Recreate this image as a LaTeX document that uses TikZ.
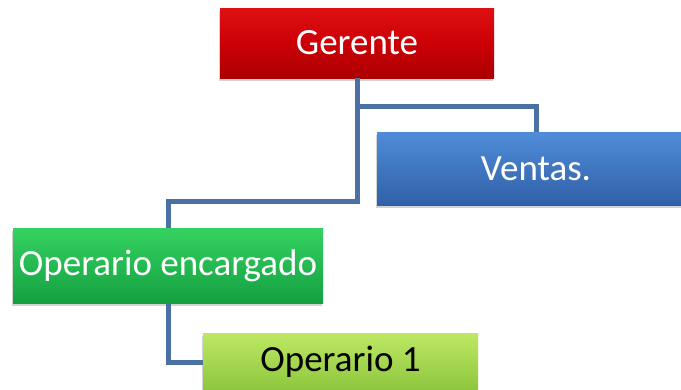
\documentclass[tikz,border=0pt]{standalone}
\usepackage{fontspec}
\setmainfont{Carlito}
\usetikzlibrary{positioning,shadows}
\definecolor{linia}{HTML}{4A70A4}
\begin{document}
\begin{tikzpicture}[x=1pt,y=-1pt,
	caja/.style={rectangle, inner sep=0pt, font=\fontsize{37}{42}\selectfont,
		drop shadow={shadow xshift=-1.5pt, shadow yshift=-2.5pt, opacity=.35}},
	conector/.style={draw=linia, line width=5pt}]
					\useasboundingbox (0,0) rectangle (681,389);
					\clip (0,0) rectangle (681,389);
					\node[caja, minimum width=274pt, minimum height=70pt, text=white,
						top color={rgb,255:red,222;green,16;blue,20}, bottom color={rgb,255:red,170;green,0;blue,0}, middle color={rgb,255:red,204;green,0;blue,6}]
						(ger) at (357,43) {Gerente};
					\node[caja, minimum width=318pt, minimum height=73pt, text=white,
						top color={rgb,255:red,80;green,140;blue,216}, bottom color={rgb,255:red,48;green,96;blue,168}]
						(ven) at (536,168.5) {Ventas.};
					\node[caja, minimum width=310pt, minimum height=75pt, text=white,
						top color={rgb,255:red,52;green,210;blue,96}, bottom color={rgb,255:red,20;green,160;blue,66}]
						(enc) at (168,265.5) {Operario encargado};
					\node[caja, minimum width=275pt, minimum height=58pt, text=black,
						top color={rgb,255:red,190;green,232;blue,100}, bottom color={rgb,255:red,140;green,198;blue,60}]
						(op1) at (340.5,362) {Operario 1};
					\coordinate (j1) at (357,106);
					\coordinate (j2) at (357,201);
					\path[conector]
					(ger.south) -- (j1) -| (ven.north)
					(j1) -- (j2) -| (enc.north)
					(enc.south) |- (op1.west);
				\end{tikzpicture}
\end{document}
